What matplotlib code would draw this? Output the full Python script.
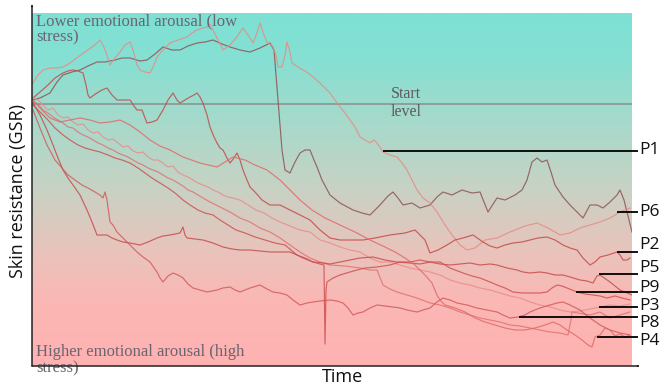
import numpy as np
import matplotlib
matplotlib.use("Agg")
import matplotlib.pyplot as plt
from matplotlib.colors import LinearSegmentedColormap

# ---------------- data (time in s, skin resistance in arbitrary units) ----------------
p6_t = [1,8,18,25,31,40,48,56,65,73,83,90,98,108,115,123,131,140,148,156,165,173,181,190,198,208,218,228,238,242,246,250,253,258,263,268,273,278,282,285,290,298,308,321,330,338,348,356,361,366,371,380,388,398,405,411,420,430,440,448,456,465,473,483,490,495,500,505,510,515,519,523,531,538,545,551,558,565,571,578,585,588,592,595,600]
p6_r = [266,268,273,284,291,294,296,300,304,304,306,308,308,305,306,312,319,316,316,320,323,324,326,322,319,316,314,318,323,316,266,216,196,193,204,213,216,216,206,199,186,171,163,156,153,151,161,170,174,168,161,163,158,161,169,174,171,176,173,174,154,168,166,171,176,186,204,208,204,206,194,181,169,161,154,148,161,161,158,164,171,176,166,154,134]

p1_t = [1,6,11,18,25,31,38,46,53,60,65,68,71,75,78,83,88,93,98,101,105,108,113,118,122,125,131,138,146,155,160,165,170,175,178,181,186,191,195,198,204,211,216,221,225,228,232,235,241,244,246,250,253,255,258,260,266,271,276,281,288,293,298,303,308,313,318,323,328,333,338,342,345,351,358,365,370,375,380,385,391,398,405,413,420,428,435,443,453,465,478,493,505,516,528,538,548,558,568,578,588,598]
p1_r = [283,291,296,298,298,299,303,309,314,319,323,326,321,311,301,308,314,321,324,316,301,296,294,293,301,309,316,323,326,329,333,336,338,339,342,336,326,316,319,321,328,338,331,323,333,343,331,324,319,311,299,299,311,324,314,303,299,296,293,289,283,278,273,266,259,253,246,239,229,226,223,226,223,214,211,209,203,196,186,176,168,163,154,141,131,121,116,118,126,128,134,140,143,138,131,133,138,141,144,148,154,158]

p2_t = [1,8,16,23,31,36,41,46,51,54,56,58,62,65,70,75,80,85,91,98,102,105,110,113,115,120,125,128,131,136,141,145,148,153,158,162,165,168,171,175,178,182,185,188,191,195,198,202,205,208,211,215,218,223,230,238,248,258,268,278,288,298,308,318,331,343,358,373,383,393,398,406,415,423,431,441,451,458,465,473,481,490,498,506,515,523,531,538,545,551,558,563,568,576,585,588,591,595,598]
p2_r = [268,274,281,288,293,295,296,295,293,281,271,268,271,273,276,278,271,266,266,266,260,256,256,248,243,244,246,251,256,266,273,266,263,266,269,271,273,269,263,251,239,229,223,218,216,208,203,208,213,206,196,186,179,174,166,161,161,156,151,146,136,128,126,126,126,128,131,133,136,126,113,116,121,126,128,131,124,120,118,121,123,124,126,128,129,126,121,118,116,108,101,104,109,111,114,111,106,106,108]

p3_t = [1,6,11,16,21,26,31,36,41,46,51,56,61,66,71,76,81,86,91,96,101,106,111,116,121,126,131,136,141,146,151,156,161,166,171,176,181,186,191,196,201,208,216,224,232,240,248,258,268,278,288,298,308,318,328,338,348,358,368,378,388,398,408,418,428,438,448,458,468,478,488,498,508,518,528,538,548,558,568,578,588,598]
p3_r = [268,266,261,256,258,251,248,249,244,241,242,236,233,234,229,226,227,223,219,220,215,213,214,209,206,206,203,199,200,194,191,189,186,183,181,179,176,174,171,169,168,166,161,156,153,148,144,140,136,134,126,123,119,116,114,108,104,104,101,98,96,94,91,86,83,81,78,76,73,70,68,64,61,59,56,54,55,57,59,61,60,62]

p8_t = [1,6,11,16,21,26,31,36,41,46,51,56,61,66,71,76,81,86,91,96,101,106,111,116,121,126,131,136,141,146,151,156,161,166,171,178,188,198,208,218,228,238,248,258,268,278,288,298,313,328,338,345,351,358,365,375,385,398,408,418,428,438,448,458,468,478,488,498,508,518,528,536,539,540,546,558,568,578,588,598]
p8_r = [264,262,256,253,249,246,243,239,238,234,231,229,226,223,221,218,216,213,211,209,206,203,201,198,196,194,191,188,186,183,180,176,174,171,168,164,159,154,148,144,138,134,128,121,114,108,104,101,100,98,96,96,81,77,74,71,68,63,61,58,54,51,48,46,44,41,40,38,36,34,33,31,46,54,53,51,54,48,51,54]

p5_t = [1,8,15,21,26,31,36,41,48,55,60,65,70,75,80,85,91,98,103,108,116,125,131,138,143,148,151,153,155,163,171,181,191,200,208,218,228,238,248,258,265,271,281,291,298,308,318,328,341,353,365,378,388,398,408,418,428,438,448,458,465,475,485,491,498,508,515,523,531,538,548,555,561,565,568,578,588,600]
p5_r = [263,251,236,221,208,196,188,181,171,156,144,131,131,131,128,126,124,123,122,121,124,128,130,131,132,133,139,131,128,127,126,123,119,117,116,116,115,114,114,114,111,108,104,103,102,104,106,108,109,106,104,103,102,104,102,101,102,103,101,102,101,98,96,94,93,94,93,91,91,89,86,85,83,90,91,84,76,71]

p4_t = [1,8,15,23,30,36,43,50,56,63,68,71,73,75,78,81,85,90,95,100,105,111,118,125,128,131,136,141,146,151,156,161,168,175,180,185,191,198,203,208,218,228,235,241,248,255,261,268,275,281,288,298,305,311,316,321,326,331,338,345,353,361,368,375,380,385,391,398,405,411,418,425,435,445,455,465,471,478,486,493,498,508,518,525,531,538,548,558,568,578,588,598]
p4_r = [256,238,221,206,198,191,186,181,178,174,171,168,174,166,144,141,134,129,124,119,114,109,104,94,88,84,90,93,91,88,82,78,76,74,75,76,78,79,76,74,78,81,77,74,73,71,66,61,63,64,65,66,65,63,58,51,53,54,58,61,60,59,58,56,55,54,56,58,64,68,66,63,61,58,56,54,51,48,49,51,54,58,61,63,64,61,56,48,41,36,33,31]

p9_t = [1,8,16,23,31,38,46,53,60,68,76,83,90,98,106,113,120,128,136,143,151,158,166,173,181,188,196,204,213,223,233,243,253,265,273,281,288,292,293,294,295,301,308,318,325,333,345,358,368,378,388,398,408,418,431,440,448,458,465,473,481,490,498,508,515,520,525,530,535,540,545,553,561,568,575,583,590,598]
p9_r = [261,254,246,238,231,226,221,218,216,214,211,208,206,203,198,193,188,183,178,173,166,161,156,153,151,146,141,136,133,129,126,123,121,111,108,104,102,101,22,76,84,88,91,94,96,98,99,101,104,104,106,104,104,98,93,90,88,84,81,78,74,73,73,73,74,78,81,80,78,76,74,72,71,70,68,70,68,66]

p7_t = [1,8,18,28,38,48,58,68,78,88,98,108,118,128,138,151,168,185,193,201,213,223,235,248,258,268,280,293,308,323,338,353,363,373,383,393,400,405,408,413,423,433,443,453,463,473,483,493,503,513,521,528,535,543,550,556,560,563,568,573,578,583,588,593,598]
p7_r = [266,258,248,244,246,248,246,243,244,246,241,234,226,220,216,209,203,199,204,209,206,201,196,186,176,166,156,148,141,134,126,119,114,108,101,91,83,71,66,61,58,54,48,44,41,38,36,36,38,41,44,41,36,31,26,21,19,29,31,38,36,30,32,29,31]

start_level = 262
labels   = ["P1", "P6", "P2", "P5", "P9", "P3", "P8", "P4"]
leader_t = [351, 585, 585, 567, 544, 567, 487, 565]
leader_r = [215, 154, 114, 92, 74, 59, 49, 29]
label_r  = [216, 154, 121, 98, 78, 60, 43, 25]

series = [
    (p6_t, p6_r, "#8e5a5a", 0.9),
    (p1_t, p1_r, "#e58c86", 0.85),
    (p2_t, p2_r, "#c24a4a", 0.85),
    (p3_t, p3_r, "#ea8c8c", 0.85),
    (p8_t, p8_r, "#e07272", 0.85),
    (p5_t, p5_r, "#c64c4c", 0.85),
    (p4_t, p4_r, "#d35a5a", 0.85),
    (p9_t, p9_r, "#cf5050", 0.85),
    (p7_t, p7_r, "#e06a6a", 0.85),
]

# ---------------- figure ----------------
W, H = 664, 386
fig = plt.figure(figsize=(W / 100, H / 100), dpi=100)
ax = fig.add_axes([32 / W, 20 / H, 600 / W, 353 / H])
ax.set_xlim(0, 600)
ax.set_ylim(0, 353)
ax.axis("off")

# gradient background
stops = [(0.0, (125, 225, 212)), (0.13, (133, 224, 211)), (0.30, (165, 218, 203)),
         (0.50, (200, 210, 196)), (0.67, (232, 196, 188)), (0.81, (250, 184, 181)),
         (1.0, (255, 178, 178))]
cmap = LinearSegmentedColormap.from_list(
    "bg", [(p, tuple(c / 255 for c in col)) for p, col in stops])
grad = np.linspace(0, 1, 400).reshape(-1, 1)
ax.imshow(grad, cmap=cmap, extent=[0, 600, 0, 353], aspect="auto",
          origin="upper", zorder=0, interpolation="bilinear")

# start level
ax.axhline(start_level, color="#8a8f8c", lw=1.1, zorder=1)

for t, r, c, a in series:
    ax.plot(t, r, color=c, lw=0.85, alpha=a, zorder=2)

# leader lines and labels
for name, t0, r0, rl in zip(labels, leader_t, leader_r, label_r):
    ax.plot([t0, 606], [r0, r0], color="black", lw=1.3, zorder=4, clip_on=False,
            solid_capstyle="butt")
    ax.text(607, rl, name, fontsize=12.5, family="Open Sans", color="#111111",
            va="center", ha="left", clip_on=False, zorder=5)

# annotations
serif = "Liberation Serif"
txtc = "#6b6470"
ax.text(4, 353, "Lower emotional arousal (low\nstress)", family=serif, fontsize=12,
        color=txtc, va="top", ha="left", linespacing=1.0, zorder=5)
ax.text(4, 22, "Higher emotional arousal (high\nstress)", family=serif, fontsize=12,
        color=txtc, va="top", ha="left", linespacing=1.0, zorder=5, clip_on=False)
ax.text(359, 263, "Start\nlevel", family=serif, fontsize=11.5, color="#5e5a5e",
        va="center", ha="left", linespacing=1.15, zorder=5)

# axes with arrows (figure coordinates)
def fx(x):
    return x / W

def fy(y):
    return 1 - y / H

arrow = dict(arrowstyle="-|>,head_length=0.5,head_width=0.25", color="#222222", lw=1.1,
             shrinkA=0, shrinkB=0)
fig.add_artist(matplotlib.patches.FancyArrowPatch((fx(32), fy(366)), (fx(32), fy(4)),
               transform=fig.transFigure, **arrow))
fig.add_artist(matplotlib.patches.FancyArrowPatch((fx(32), fy(366)), (fx(640), fy(366)),
               transform=fig.transFigure, **arrow))

fig.text(fx(18), fy(191), "Skin resistance (GSR)", rotation=90, fontsize=13,
         family="Open Sans", ha="center", va="center", color="#111111")
fig.text(fx(343), fy(377), "Time", fontsize=13, family="Open Sans",
         ha="center", va="center", color="#111111")

fig.savefig("out.png", dpi=100)
